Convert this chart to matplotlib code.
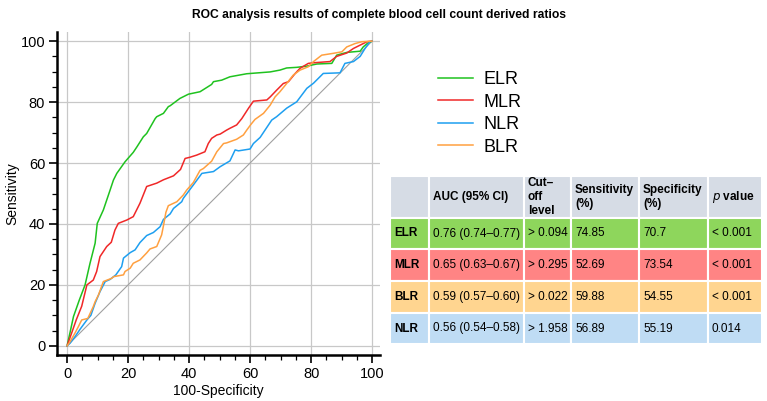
import matplotlib
matplotlib.use("Agg")
import matplotlib.pyplot as plt
from matplotlib.patches import Rectangle
from matplotlib.ticker import MultipleLocator

plt.rcParams['font.family'] = ['Liberation Sans', 'DejaVu Sans']

# ROC curve points (100-specificity, sensitivity)
elr_x = [0, 1.0, 2.1, 4.0, 5.9, 7.5, 9.2, 9.9, 11.9, 14.1, 15.2, 16.3, 19.0, 21.7, 22.9, 25.0, 26.1,
         28.9, 29.4, 31.6, 33.2, 33.8, 37.0, 39.8, 43.6, 47.4, 48.0, 50.7, 53.4, 58.9, 66.6, 69.8,
         72.0, 75.3, 78.6, 81.9, 86.8, 88.4, 91.7, 96.1, 97.1, 98.5, 100]
elr_y = [0, 4.5, 9.6, 15.0, 20.0, 27.0, 33.7, 40.2, 44.6, 51.1, 54.4, 56.6, 60.4, 63.5, 65.3, 68.6, 69.7,
         74.6, 75.2, 76.3, 78.5, 78.8, 81.2, 82.6, 83.4, 85.8, 86.7, 87.2, 88.3, 89.3, 89.9, 90.5,
         91.2, 91.4, 91.8, 92.5, 92.7, 95.4, 96.3, 96.7, 98.1, 99.3, 100]

mlr_x = [0, 1.5, 3.0, 4.8, 6.5, 8.6, 9.7, 10.8, 13.0, 14.5, 15.7, 16.8, 19.6, 21.7, 23.9, 26.1,
         29.4, 31.6, 34.9, 37.2, 38.7, 40.3, 42.5, 45.2, 46.3, 47.4, 49.1, 50.2, 52.3, 53.4, 55.6,
         57.3, 59.5, 61.1, 65.5, 66.6, 68.7, 70.9, 72.6, 74.8, 76.4, 79.1, 80.8, 86.2, 88.4, 91.7,
         93.9, 96.1, 98.3, 100]
mlr_y = [0, 4.2, 8.5, 13.0, 20.0, 21.6, 24.4, 29.3, 32.6, 34.0, 38.0, 40.2, 41.3, 42.4, 46.8, 52.3,
         53.4, 54.5, 55.8, 57.9, 61.5, 61.9, 62.6, 63.7, 66.4, 68.1, 69.2, 69.5, 70.8, 71.4, 72.5,
         74.6, 78.0, 80.3, 80.7, 81.7, 83.9, 86.1, 86.7, 89.4, 91.1, 92.7, 92.9, 93.3, 95.0, 96.1,
         97.6, 98.7, 99.8, 100]

nlr_x = [0, 1.0, 2.6, 4.3, 6.5, 7.8, 9.2, 10.8, 12.5, 14.1, 16.0, 17.9, 18.5, 20.7, 22.3, 23.9,
         26.1, 28.3, 30.5, 31.6, 33.8, 34.9, 37.6, 38.1, 41.4, 44.2, 48.0, 50.2, 53.4, 55.1, 56.2,
         60.0, 61.1, 63.3, 64.9, 67.1, 68.7, 72.0, 75.3, 78.6, 80.8, 82.9, 84.0, 89.5, 91.1, 93.9,
         96.1, 97.7, 99.3, 100]
nlr_y = [0, 0.9, 3.0, 5.5, 8.5, 10.0, 14.0, 17.8, 21.1, 21.8, 23.3, 26.0, 28.8, 30.6, 31.5, 33.9,
         36.2, 37.2, 39.1, 41.5, 43.3, 45.1, 47.3, 48.4, 52.8, 56.6, 57.2, 58.8, 60.7, 64.3, 64.0,
         64.6, 66.4, 68.4, 70.8, 74.1, 75.2, 78.0, 80.1, 84.5, 86.2, 88.3, 89.4, 89.6, 92.7, 93.3,
         95.0, 97.6, 99.8, 100]

blr_x = [0, 1.0, 2.6, 3.7, 4.8, 6.8, 8.6, 9.2, 10.3, 11.9, 14.7, 15.2, 18.5, 19.0, 20.7, 21.7,
         23.9, 26.1, 27.2, 29.4, 31.0, 31.6, 32.4, 33.2, 36.0, 38.1, 39.2, 41.4, 43.6, 44.7, 47.4,
         49.1, 51.3, 52.3, 55.6, 57.8, 58.9, 60.3, 61.6, 64.4, 66.6, 68.2, 69.8, 72.0, 74.2, 76.4,
         79.1, 80.8, 83.5, 87.3, 90.1, 91.7, 94.4, 96.6, 100]
blr_y = [0, 1.4, 4.2, 6.3, 8.5, 9.0, 12.9, 14.5, 16.7, 21.1, 22.2, 22.7, 23.3, 24.4, 25.5, 27.1,
         28.2, 30.5, 31.8, 32.6, 36.4, 39.4, 43.8, 46.0, 47.3, 49.5, 51.1, 53.6, 57.6, 58.2, 60.6,
         63.7, 66.4, 66.6, 67.8, 69.2, 70.8, 72.7, 74.3, 76.3, 79.0, 81.7, 83.4, 86.1, 88.9, 90.5,
         91.6, 93.3, 95.4, 96.0, 96.5, 98.1, 99.2, 99.8, 100]

curve_names = ["ELR", "MLR", "NLR", "BLR"]
curve_colors = ["#1fc21f", "#f02828", "#1e9ff0", "#ffa040"]

# table contents
col_headers = ["", "AUC (95% CI)", "Cut–\noff\nlevel", "Sensitivity\n(%)", "Specificity\n(%)", "$\\it{p}$ value"]
row_names = ["ELR", "MLR", "BLR", "NLR"]
auc_ci = ["0.76 (0.74–0.77)", "0.65 (0.63–0.67)", "0.59 (0.57–0.60)", "0.56 (0.54–0.58)"]
cutoffs = ["> 0.094", "> 0.295", "> 0.022", "> 1.958"]
sensitivity = ["74.85", "52.69", "59.88", "56.89"]
specificity = ["70.7", "73.54", "54.55", "55.19"]
p_values = ["< 0.001", "< 0.001", "< 0.001", "0.014"]
row_colors = ["#8ed65c", "#ff8484", "#ffd590", "#bfdcf4"]
header_color = "#d6dce5"

fig = plt.figure(figsize=(7.67, 4.01), dpi=100)
fig.text(0.494, 0.962, "ROC analysis results of complete blood cell count derived ratios",
         ha="center", va="center", fontsize=8.7, fontweight="bold")

ax = fig.add_axes([57 / 767, 1 - 355 / 401, 323 / 767, 323 / 401])
ax.plot([0, 100], [0, 100], color="#a0a0a0", lw=0.8, zorder=2)
for xs, ys, name, col in zip([elr_x, mlr_x, nlr_x, blr_x], [elr_y, mlr_y, nlr_y, blr_y],
                             curve_names, curve_colors):
    ax.plot(xs, ys, color=col, lw=1.1, label=name, zorder=3)

ax.set_xlim(-3.3, 102.6)
ax.set_ylim(-3.0, 103)
ax.xaxis.set_major_locator(MultipleLocator(20))
ax.yaxis.set_major_locator(MultipleLocator(20))
ax.xaxis.set_minor_locator(MultipleLocator(5))
ax.yaxis.set_minor_locator(MultipleLocator(5))
ax.grid(True, which="major", color="#c8c8c8", lw=0.9)
ax.set_axisbelow(True)
for s in ["top", "right"]:
    ax.spines[s].set_visible(False)
for s in ["left", "bottom"]:
    ax.spines[s].set_linewidth(1.8)
ax.tick_params(which="major", length=6, width=1.2, labelsize=10.5, direction="out", pad=2.5)
ax.tick_params(which="minor", length=3.5, width=0.9, direction="out")
ax.set_xlabel("100-Specificity", fontsize=10, labelpad=2)
ax.set_ylabel("Sensitivity", fontsize=10, labelpad=1)

fig.legend(loc="upper left", bbox_to_anchor=(422 / 767, 1 - 55 / 401), frameon=False,
           fontsize=13, handlelength=1.9, handletextpad=0.6, labelspacing=0.3)

# table drawn in its own axes, units are pixels
col_widths = [39, 95, 47, 68, 69, 54]
row_heights = [42, 31, 32, 32, 31]
tw, th = sum(col_widths), sum(row_heights)
tax = fig.add_axes([390 / 767, 1 - 344 / 401, tw / 767, th / 401])
tax.set_xlim(0, tw)
tax.set_ylim(th, 0)
tax.axis("off")

rows = [col_headers] + [[row_names[i], auc_ci[i], cutoffs[i], sensitivity[i], specificity[i], p_values[i]]
                        for i in range(len(row_names))]
fills = [header_color] + row_colors
y0 = 0
for r, cells in enumerate(rows):
    x0 = 0
    for c, txt in enumerate(cells):
        tax.add_patch(Rectangle((x0, y0), col_widths[c], row_heights[r], facecolor=fills[r],
                                edgecolor="white", lw=1.5))
        bold = (r == 0 and c > 0) or (c == 0)
        tax.text(x0 + 4, y0 + row_heights[r] / 2, txt, ha="left", va="center",
                 fontsize=8.5, fontweight="bold" if bold else "normal", linespacing=1.25)
        x0 += col_widths[c]
    y0 += row_heights[r]

fig.savefig("out.png", dpi=100)
